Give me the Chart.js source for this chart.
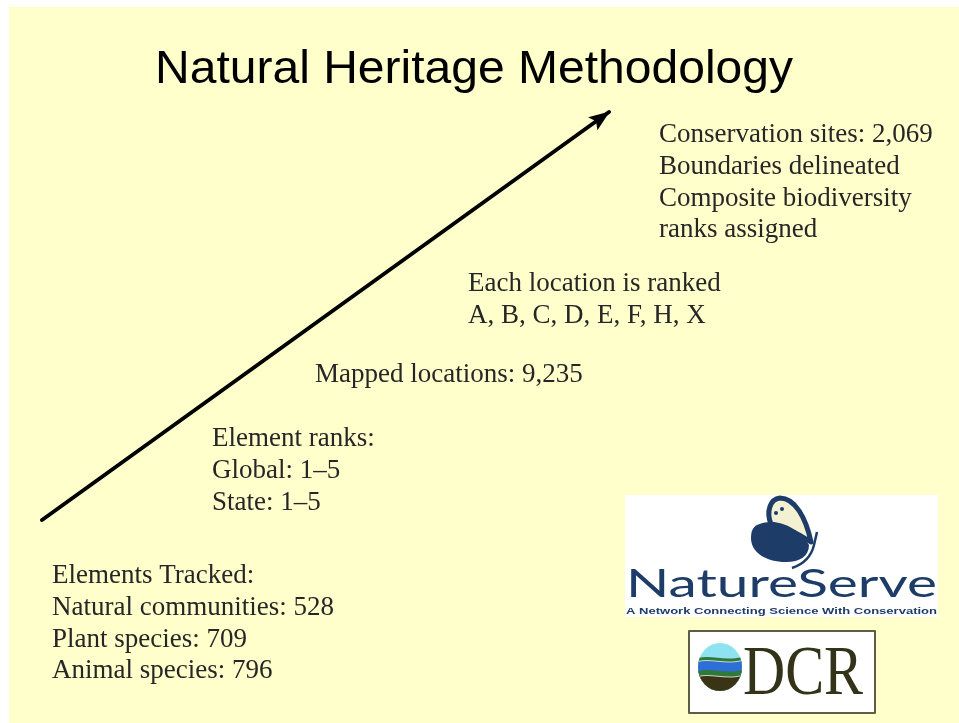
<!DOCTYPE html>
<html>
<head>
<meta charset="utf-8">
<title>Natural Heritage Methodology</title>
<script src="https://cdn.jsdelivr.net/npm/chart.js@4/dist/chart.umd.min.js"></script>
<style>
    html, body { margin: 0; padding: 0; background: #ffffff; }
    #slide { display: block; }
</style>
</head>
<body>
<canvas id="slide" width="959" height="723"></canvas>
<script>
// slide values
const slideTitle = 'Natural Heritage Methodology';
const elementTypes = ['Natural communities', 'Plant species', 'Animal species'];
const elementCounts = [528, 709, 796];
const rankLevels = ['Global', 'State'];
const rankRange = ['1', '5'];
const mappedLocations = 9235;
const locationRanks = ['A', 'B', 'C', 'D', 'E', 'F', 'H', 'X'];
const conservationSites = 2069;
const siteNotes = ['Boundaries delineated', 'Composite biodiversity', 'ranks assigned'];

// progress arrow (slide coordinates)
const arrowX = [42, 609];
const arrowY = [520, 112];

const fmt = n => n.toLocaleString('en-US');

// text blocks, each anchored at the first baseline
const textBlocks = [
    {x: 52, y: 583, lines: ['Elements Tracked:'].concat(elementTypes.map((t, i) => t + ': ' + elementCounts[i]))},
    {x: 212, y: 446, lines: ['Element ranks:'].concat(rankLevels.map(l => l + ': ' + rankRange.join('\u2013')))},
    {x: 315, y: 382, lines: ['Mapped locations: ' + fmt(mappedLocations)]},
    {x: 468, y: 291, lines: ['Each location is ranked', locationRanks.join(', ')]},
    {x: 659, y: 142, lines: ['Conservation sites: ' + fmt(conservationSites)].concat(siteNotes)},
];

const NAVY = '#1d3c68';

function fitText(ctx, text, x, y, width) {
    const w = ctx.measureText(text).width;
    ctx.save();
    ctx.translate(x, y);
    ctx.scale(width / w, 1);
    ctx.fillText(text, 0, 0);
    ctx.restore();
}

const slideBackground = {
    id: 'slideBackground',
    beforeDraw(chart) {
        const {ctx, chartArea} = chart;
        ctx.save();
        ctx.fillStyle = '#ffffff';
        ctx.fillRect(0, 0, chart.width, chart.height);
        ctx.fillStyle = '#ffffcc';
        ctx.fillRect(chartArea.left, chartArea.top, chartArea.right - chartArea.left, chartArea.bottom - chartArea.top);
        ctx.restore();
    }
};

const arrowHead = {
    id: 'arrowHead',
    afterDatasetsDraw(chart) {
        const pts = chart.getDatasetMeta(0).data;
        const a = pts[pts.length - 2], b = pts[pts.length - 1];
        const ang = Math.atan2(b.y - a.y, b.x - a.x);
        const len = 20, half = 8;
        const ctx = chart.ctx;
        ctx.save();
        ctx.translate(b.x, b.y);
        ctx.rotate(ang);
        ctx.fillStyle = '#000';
        ctx.beginPath();
        ctx.moveTo(1, 0);
        ctx.lineTo(-len, -half);
        ctx.lineTo(-len + 4, 0);
        ctx.lineTo(-len, half);
        ctx.closePath();
        ctx.fill();
        ctx.restore();
    }
};

const slideText = {
    id: 'slideText',
    afterDatasetsDraw(chart) {
        const {ctx, scales: {x, y}} = chart;
        ctx.save();
        ctx.fillStyle = '#000';
        ctx.textBaseline = 'alphabetic';
        ctx.textAlign = 'left';
        ctx.font = '46px "Liberation Sans", Arial, sans-serif';
        fitText(ctx, slideTitle, x.getPixelForValue(155), y.getPixelForValue(83), 638);

        ctx.fillStyle = '#262626';
        ctx.font = '27px "Liberation Serif", "Times New Roman", serif';
        textBlocks.forEach(b => {
            b.lines.forEach((line, i) => {
                ctx.fillText(line, x.getPixelForValue(b.x), y.getPixelForValue(b.y + i * 31.8));
            });
        });
        ctx.restore();
    }
};

const logos = {
    id: 'logos',
    afterDraw(chart) {
        const {ctx, scales: {x, y}} = chart;
        const px = v => x.getPixelForValue(v), py = v => y.getPixelForValue(v);
        ctx.save();

        // NatureServe
        ctx.fillStyle = '#ffffff';
        ctx.fillRect(px(625), py(495), px(938) - px(625), py(617) - py(495));

        // butterfly: pale upper wing
        ctx.lineWidth = 5;
        ctx.lineJoin = 'round';
        ctx.strokeStyle = NAVY;
        ctx.fillStyle = '#f4f0d2';
        ctx.beginPath();
        ctx.moveTo(px(771), py(524));
        ctx.bezierCurveTo(px(766), py(512), px(770), py(499), px(780), py(498));
        ctx.bezierCurveTo(px(795), py(498), px(806), py(518), px(811), py(542));
        ctx.bezierCurveTo(px(800), py(535), px(785), py(527), px(771), py(524));
        ctx.closePath();
        ctx.fill();
        ctx.stroke();
        ctx.fillStyle = NAVY;
        ctx.beginPath();
        ctx.arc(px(776), py(513), 2, 0, Math.PI * 2);
        ctx.fill();
        ctx.beginPath();
        ctx.arc(px(782), py(509), 2, 0, Math.PI * 2);
        ctx.fill();
        // dark lower wing
        ctx.beginPath();
        ctx.moveTo(px(757), py(525));
        ctx.bezierCurveTo(px(775), py(516), px(800), py(528), px(809), py(545));
        ctx.bezierCurveTo(px(809), py(556), px(800), py(562), px(786), py(562));
        ctx.bezierCurveTo(px(765), py(562), px(751), py(552), px(751), py(538));
        ctx.bezierCurveTo(px(751), py(531), px(753), py(527), px(757), py(525));
        ctx.fill();
        ctx.lineWidth = 2.5;
        ctx.beginPath();
        ctx.moveTo(px(792), py(568));
        ctx.quadraticCurveTo(px(810), py(562), px(814), py(545));
        ctx.lineTo(px(817), py(532));
        ctx.stroke();

        ctx.fillStyle = NAVY;
        ctx.textBaseline = 'alphabetic';
        ctx.font = '38px Lato, "Open Sans", sans-serif';
        fitText(ctx, 'NatureServe', px(626), py(597), 311);
        ctx.font = 'bold 9px "Liberation Sans", Arial, sans-serif';
        fitText(ctx, 'A Network Connecting Science With Conservation', px(626), py(614), 311);

        // DCR
        ctx.fillStyle = '#ffffff';
        ctx.fillRect(px(689), py(631), px(875) - px(689), py(713) - py(631));
        ctx.strokeStyle = '#5e5d45';
        ctx.lineWidth = 2;
        ctx.strokeRect(px(689), py(631), px(875) - px(689), py(713) - py(631));

        const cx = px(720), cy = py(667);
        ctx.save();
        ctx.beginPath();
        ctx.ellipse(cx, cy, 22, 24, 0, 0, Math.PI * 2);
        ctx.clip();
        const bands = [
            ['#8fe3f0', -30],
            ['#2f7a3a', -8],
            ['#c8d8c8', -5],
            ['#2d6fd6', -4],
            ['#2f7a3a', 5],
            ['#d0d0c0', 10],
            ['#3a3416', 11],
        ];
        bands.forEach(([col, off]) => {
            ctx.fillStyle = col;
            ctx.beginPath();
            ctx.moveTo(cx - 25, cy + off);
            ctx.bezierCurveTo(cx - 10, cy + off - 6, cx + 5, cy + off + 4, cx + 25, cy + off - 3);
            ctx.lineTo(cx + 25, cy + 30);
            ctx.lineTo(cx - 25, cy + 30);
            ctx.closePath();
            ctx.fill();
        });
        ctx.restore();

        ctx.fillStyle = '#33331a';
        ctx.font = '70px "Liberation Serif", "Times New Roman", serif';
        fitText(ctx, 'DCR', px(743), py(694), 120);

        ctx.restore();
    }
};

new Chart(document.getElementById('slide'), {
    type: 'line',
    data: {
        datasets: [{
            data: arrowX.map((v, i) => ({x: v, y: arrowY[i]})),
            borderColor: '#000',
            borderWidth: 4,
            borderCapStyle: 'round',
            pointRadius: 0,
            tension: 0,
        }]
    },
    options: {
        responsive: false,
        animation: false,
        layout: {padding: {left: 9, top: 7, right: 0, bottom: 0}},
        plugins: {
            legend: {display: false},
            tooltip: {enabled: false},
        },
        scales: {
            x: {type: 'linear', min: 9, max: 959, display: false},
            y: {type: 'linear', min: 7, max: 723, reverse: true, display: false},
        },
    },
    plugins: [slideBackground, arrowHead, slideText, logos],
});
</script>
</body>
</html>
